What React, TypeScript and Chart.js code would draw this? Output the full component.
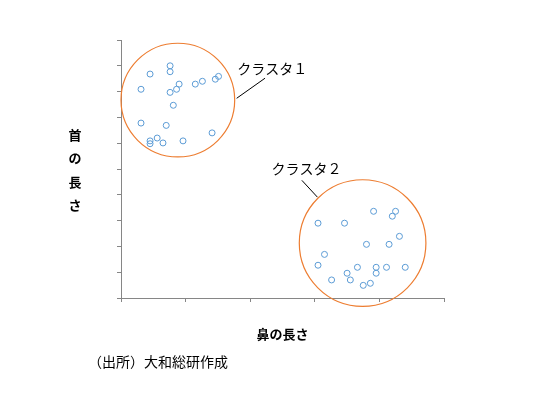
import React, { useEffect, useRef } from "react";
import { Chart, registerables } from "chart.js";

Chart.register(...registerables);

// Cluster 1 (top-left)
const cluster1X = [0.76, 0.76, 0.45, 0.31, 0.9, 0.86, 0.76, 1.15, 1.26, 1.46, 1.51, 0.81, 0.31, 0.7, 1.41, 0.56, 0.45, 0.45, 0.65, 0.96];
const cluster1Y = [9.0, 8.77, 8.68, 8.09, 8.29, 8.09, 7.97, 8.29, 8.4, 8.48, 8.59, 7.47, 6.78, 6.69, 6.4, 6.2, 6.09, 5.98, 6.01, 6.09];
// Cluster 2 (bottom-right)
const cluster2X = [3.91, 4.25, 4.2, 3.05, 3.46, 4.31, 3.8, 4.15, 3.15, 3.05, 3.66, 3.95, 4.11, 4.4, 3.5, 3.95, 3.26, 3.55, 3.75, 3.86];
const cluster2Y = [3.36, 3.36, 3.17, 2.9, 2.9, 2.39, 2.08, 2.08, 1.69, 1.27, 1.19, 1.19, 1.19, 1.19, 0.96, 0.96, 0.7, 0.7, 0.49, 0.57];

// Cluster circles: center (x, y) and radius in x units
const clusterNames = ["クラスタ１", "クラスタ２"];
const clusterCenterX = [0.88, 3.74];
const clusterCenterY = [7.67, 2.13];
const clusterRadius = [0.88, 0.98];
// Label anchors (data units) and leader lines
const labelX = [1.8, 2.33];
const labelY = [8.9, 5.0];
const leaderFromX = [1.79, 3.04];
const leaderFromY = [7.74, 3.91];
const leaderToX = [2.23, 2.8];
const leaderToY = [8.52, 4.56];

const xTitle = "鼻の長さ";
const yTitle = "首の長さ";
const sourceNote = "（出所）大和総研作成";

const FONT = '"Noto Sans CJK JP", "Noto Sans", sans-serif';
const AXIS = "#868686";

const toPoints = (xs: number[], ys: number[]) => xs.map((x, i) => ({ x, y: ys[i] }));

const overlayPlugin = {
  id: "overlay",
  afterDatasetsDraw(chart: any) {
    const ctx = chart.ctx;
    const xs = chart.scales.x;
    const ys = chart.scales.y;
    ctx.save();
    // circles
    for (let i = 0; i < clusterCenterX.length; i++) {
      const cx = xs.getPixelForValue(clusterCenterX[i]);
      const cy = ys.getPixelForValue(clusterCenterY[i]);
      const r = xs.getPixelForValue(clusterCenterX[i] + clusterRadius[i]) - cx;
      ctx.beginPath();
      ctx.arc(cx, cy, r, 0, Math.PI * 2);
      ctx.strokeStyle = "#ED7D31";
      ctx.lineWidth = 1.2;
      ctx.stroke();
      // leader line
      ctx.beginPath();
      ctx.moveTo(xs.getPixelForValue(leaderFromX[i]), ys.getPixelForValue(leaderFromY[i]));
      ctx.lineTo(xs.getPixelForValue(leaderToX[i]), ys.getPixelForValue(leaderToY[i]));
      ctx.strokeStyle = "#000000";
      ctx.lineWidth = 1;
      ctx.stroke();
      // label
      ctx.fillStyle = "#000000";
      ctx.font = `14px ${FONT}`;
      ctx.textAlign = "left";
      ctx.textBaseline = "middle";
      ctx.fillText(clusterNames[i], xs.getPixelForValue(labelX[i]), ys.getPixelForValue(labelY[i]));
    }
    // axis titles
    const area = chart.chartArea;
    ctx.fillStyle = "#000000";
    ctx.font = `bold 13px ${FONT}`;
    ctx.textAlign = "center";
    ctx.textBaseline = "middle";
    ctx.fillText(xTitle, (area.left + area.right) / 2, area.bottom + 36);
    const chars = Array.from(yTitle);
    chars.forEach((c, k) => {
      ctx.fillText(c, area.left - 46, 135 + k * 23.5);
    });
    // source
    ctx.font = `14px ${FONT}`;
    ctx.textAlign = "left";
    ctx.fillText(sourceNote, 88, 362);
    ctx.restore();
  },
};

export default function App() {
  const ref = useRef<HTMLCanvasElement | null>(null);
  useEffect(() => {
    if (!ref.current) return;
    const pointStyle = {
      pointRadius: 3,
      pointHoverRadius: 3,
      borderColor: "#5B9BD5",
      backgroundColor: "rgba(255,255,255,0)",
      borderWidth: 1,
      showLine: false,
    };
    const chart = new Chart(ref.current, {
      type: "scatter",
      data: {
        datasets: [
          { label: "c1", data: toPoints(cluster1X, cluster1Y), ...pointStyle },
          { label: "c2", data: toPoints(cluster2X, cluster2Y), ...pointStyle },
        ],
      },
      options: {
        animation: false,
        responsive: false,
        maintainAspectRatio: false,
        layout: { padding: { left: 117, top: 40, right: 106, bottom: 93 } },
        plugins: { legend: { display: false }, tooltip: { enabled: false } },
        scales: {
          x: {
            type: "linear",
            min: 0,
            max: 5,
            ticks: { display: false, stepSize: 1 },
            grid: { drawOnChartArea: false, drawTicks: true, tickLength: 4, color: AXIS },
            border: { display: true, color: AXIS, width: 1 },
            afterFit: (s: any) => { s.height = 4; },
          },
          y: {
            type: "linear",
            min: 0,
            max: 10,
            ticks: { display: false, stepSize: 1 },
            grid: { drawOnChartArea: false, drawTicks: true, tickLength: 4, color: AXIS },
            border: { display: true, color: AXIS, width: 1 },
            afterFit: (s: any) => { s.width = 4; },
          },
        },
      },
      plugins: [overlayPlugin],
    } as any);
    return () => chart.destroy();
  }, []);
  return (
    <div style={{ position: "absolute", left: 0, top: 0, width: 550, height: 395, background: "#fff" }}>
      <canvas ref={ref} width={550} height={395} style={{ display: "block" }} />
    </div>
  );
}
